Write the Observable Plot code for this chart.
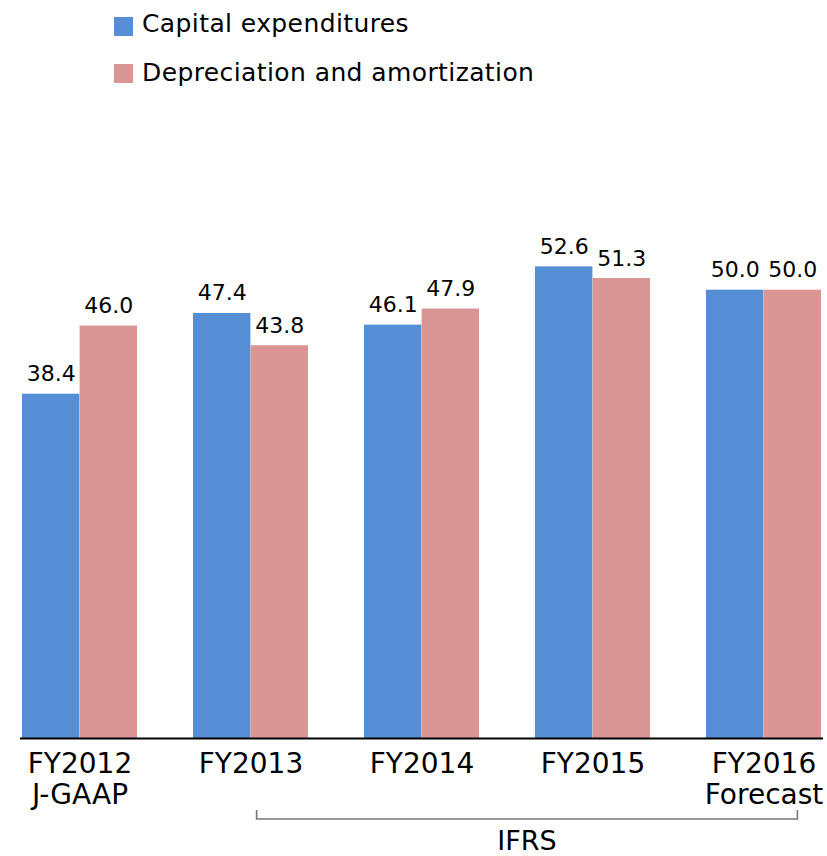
<!DOCTYPE html>
<html>
<head>
<meta charset="utf-8">
<script src="https://cdn.jsdelivr.net/npm/d3@7"></script>
<script src="https://cdn.jsdelivr.net/npm/@observablehq/plot@0.6"></script>
<style>
  html, body { margin: 0; padding: 0; background: #fff; }
  #wrap { position: relative; width: 827px; height: 856px; font-family: "DejaVu Sans", sans-serif; }
  .leg { position: absolute; left: 0; top: 0; }
  .sw { position: absolute; width: 19px; height: 19px; }
  .lt { position: absolute; font-size: 25px; line-height: 25px; letter-spacing: 0.4px; white-space: nowrap; color: #000; }
  #chart { position: absolute; left: 0; top: 0; }
</style>
</head>
<body>
<div id="wrap">
  <div id="chart"></div>
  <div class="leg" id="legend"></div>
</div>
<script>
const categories = ["FY2012", "FY2013", "FY2014", "FY2015", "FY2016"];
const subLabels = ["J-GAAP", "", "", "", "Forecast"];
const capex = [38.4, 47.4, 46.1, 52.6, 50.0];
const depreciation = [46.0, 43.8, 47.9, 51.3, 50.0];
const seriesNames = ["Capital expenditures", "Depreciation and amortization"];
const seriesColors = ["#558ed5", "#d99694"];
const ifrsRange = ["FY2013", "FY2016"];
const ifrsLabel = "IFRS";

const data = categories.map((c, i) => ({cat: c, sub: subLabels[i], capex: capex[i], dep: depreciation[i]}));

const W = 827, H = 856, mL = 20, mR = 4, mT = 200, mB = 118;
const padInner = 0.33;
const step = (W - mL - mR) / (categories.length - padInner);
const bw = step * (1 - padInner);
const half = bw / 2;

const plot = Plot.plot({
  width: W,
  height: H,
  marginTop: mT,
  marginBottom: mB,
  marginLeft: mL,
  marginRight: mR,
  style: {fontFamily: "DejaVu Sans, sans-serif", background: "transparent", overflow: "visible"},
  x: {domain: categories, paddingInner: padInner, paddingOuter: 0, axis: null},
  y: {domain: [0, 60], axis: null},
  marks: [
    Plot.barY(data, {x: "cat", y: "capex", fill: seriesColors[0], insetRight: half}),
    Plot.barY(data, {x: "cat", y: "dep", fill: seriesColors[1], insetLeft: half}),
    Plot.ruleY([0], {stroke: "#000", strokeWidth: 2}),
    Plot.text(data, {x: "cat", y: "capex", text: d => d.capex.toFixed(1), dx: -half / 2, dy: -13, lineAnchor: "bottom", fontSize: 22, fill: "#000"}),
    Plot.text(data, {x: "cat", y: "dep", text: d => d.dep.toFixed(1), dx: half / 2, dy: -13, lineAnchor: "bottom", fontSize: 22, fill: "#000"}),
    Plot.text(data, {x: "cat", y: () => 0, text: d => d.sub ? d.cat + "\n" + d.sub : d.cat, lineAnchor: "top", dy: 12, fontSize: 28, lineHeight: 1.12, fill: "#000"})
  ]
});
document.getElementById("chart").appendChild(plot);

// IFRS bracket using the plot's own scales
const xs = plot.scale("x");
const ys = plot.scale("y");
const x0 = xs.apply(ifrsRange[0]) + half + 6;
const x1 = xs.apply(ifrsRange[1]) + half * 1.5 + 5;
const yb = ys.apply(0) + 81;
const svg = d3.select(plot);
svg.append("path")
  .attr("d", `M${x0},${yb - 9}V${yb}H${x1}V${yb - 9}`)
  .attr("fill", "none")
  .attr("stroke", "#777")
  .attr("stroke-width", 1.6);
svg.append("text")
  .attr("x", (x0 + x1) / 2)
  .attr("y", H - 6)
  .attr("text-anchor", "middle")
  .attr("font-size", 27)
  .attr("fill", "#000")
  .text(ifrsLabel);

// Legend
const leg = document.getElementById("legend");
seriesNames.forEach((name, i) => {
  const sw = document.createElement("div");
  sw.className = "sw";
  sw.style.left = "114px";
  sw.style.top = (17 + i * 46.5) + "px";
  sw.style.background = seriesColors[i];
  leg.appendChild(sw);
  const t = document.createElement("div");
  t.className = "lt";
  t.style.left = "142px";
  t.style.top = (10.5 + i * 49.3) + "px";
  t.textContent = name;
  leg.appendChild(t);
});
</script>
</body>
</html>
